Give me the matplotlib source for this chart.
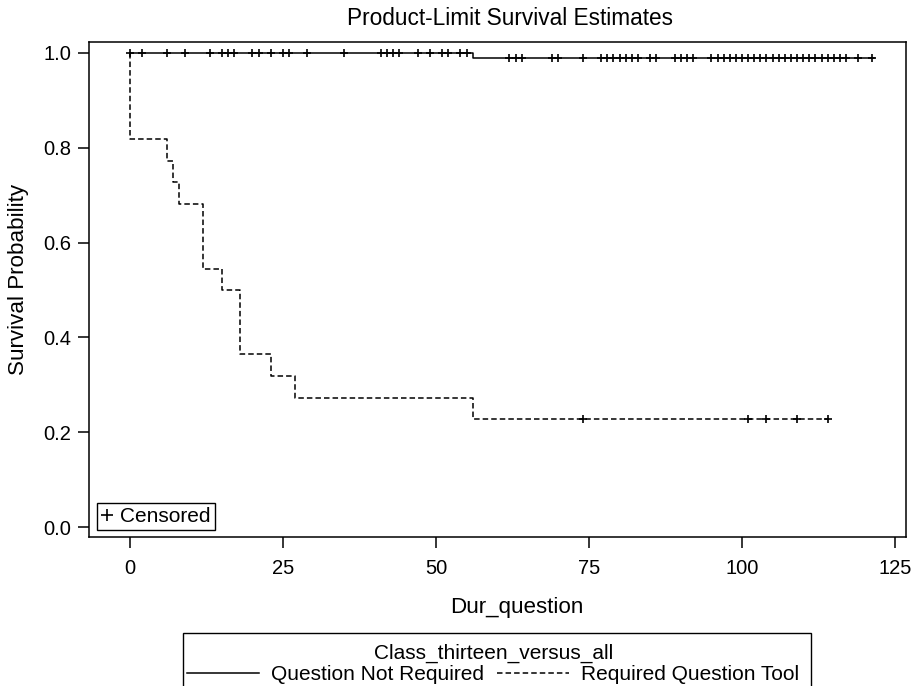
import numpy as np
import matplotlib
matplotlib.use('Agg')
import matplotlib.pyplot as plt
from matplotlib.lines import Line2D
from matplotlib.patches import Rectangle

plt.rcParams['font.family'] = ['Liberation Sans', 'DejaVu Sans']

# ---------------- data ----------------
title = "Product-Limit Survival Estimates"
x_label = "Dur_question"
y_label = "Survival Probability"
legend_title = "Class_thirteen_versus_all"
group_labels = ["Question Not Required", "Required Question Tool"]

x_ticks = [0, 25, 50, 75, 100, 125]
y_ticks = [0.0, 0.2, 0.4, 0.6, 0.8, 1.0]

# Question Not Required (solid line)
nr_times = [0, 56, 121.5]
nr_surv = [1.0, 0.99, 0.99]
nr_censor = [0, 2, 6, 9, 13, 15, 16, 17, 20, 21, 23, 25, 26, 29, 35, 41, 42,
             43, 44, 47, 49, 51, 52, 54, 55, 62, 63, 64, 69, 70, 74, 77, 78,
             79, 80, 81, 82, 83, 85, 86, 89, 90, 91, 92, 95, 96, 97, 98, 99,
             100, 101, 102, 103, 104, 105, 106, 107, 108, 109, 110, 111, 112,
             113, 114, 115, 116, 117, 119, 121.3]

# Required Question Tool (dashed line)
rq_times = [0, 0, 6, 7, 8, 12, 15, 18, 23, 27, 56, 114]
rq_surv = [1.0, 0.818, 0.773, 0.727, 0.682, 0.545, 0.5, 0.364, 0.318, 0.273,
           0.227, 0.227]
rq_censor = [74, 101, 104, 109, 114]


def surv_at(times, surv, t):
    idx = np.searchsorted(np.asarray(times), t, side='right') - 1
    return np.asarray(surv)[idx]


# ---------------- figure ----------------
FS = 15
LFS = 16.1
W, H = 917, 686
fig = plt.figure(figsize=(W / 100, H / 100), dpi=100)
ax = fig.add_axes([89 / W, 1 - 537 / H, (906 - 89) / W, (537 - 42) / H])

lw = 1.1
dash = (3.6, 2.0)
ax.step(nr_times, nr_surv, where='post', color='black', lw=lw)
ax.step(rq_times, rq_surv, where='post', color='black', lw=lw,
        linestyle=(0, dash))

ax.plot(nr_censor, [surv_at(nr_times, nr_surv, t) for t in nr_censor],
        linestyle='none', marker='+', ms=6, mew=1.2, color='black')
ax.plot(rq_censor, [surv_at(rq_times, rq_surv, t) for t in rq_censor],
        linestyle='none', marker='+', ms=6, mew=1.2, color='black')

ax.set_xlim(-6.7, 126.8)
ax.set_ylim(-0.021, 1.023)
ax.set_xticks(x_ticks)
ax.set_yticks(y_ticks)
ax.set_yticklabels([f"{v:.1f}" for v in y_ticks])
ax.tick_params(direction='out', length=8, width=1.1, labelsize=14.5,
               colors='black')
ax.tick_params(axis='x', pad=8)
ax.tick_params(axis='y', pad=5)
for s in ax.spines.values():
    s.set_linewidth(1.1)

ax.set_xlabel(x_label, fontsize=LFS)
ax.set_ylabel(y_label, fontsize=LFS)
ax.xaxis.set_label_coords((517 - 89) / 817, (537 - 596.5) / 495)
ax.yaxis.set_label_coords((29 - 89) / 817, (537 - 279) / 495)
fig.text(510 / W, 1 - 25 / H, title, ha='center', va='baseline',
         fontsize=16.3)

# censored legend inside axes
cens_handle = Line2D([], [], linestyle='none', marker='+', ms=8, mew=1.2,
                     color='black')
leg1 = ax.legend([cens_handle], ['Censored'], loc='lower left',
                 bbox_to_anchor=(0.0098, 0.014), borderaxespad=0,
                 fontsize=FS, handlelength=0.6, handletextpad=0.3,
                 borderpad=0.2, fancybox=False, edgecolor='black',
                 framealpha=1)
leg1.get_frame().set_linewidth(1.0)

# group legend below (frame drawn separately; it runs off the bottom edge)
h1 = Line2D([], [], color='black', lw=lw)
h2 = Line2D([], [], color='black', lw=lw, linestyle=(0, dash))
leg2 = fig.legend([h1, h2], group_labels, title=legend_title, ncol=2,
                  loc='upper left',
                  bbox_to_anchor=(187 / W, 1 - 644 / H), borderaxespad=0,
                  fontsize=FS, title_fontsize=FS, handlelength=3.45,
                  handletextpad=0.6, columnspacing=0.6, borderpad=0,
                  labelspacing=0.1, frameon=False)
fig.add_artist(Rectangle((183 / W, -0.05), (811 - 183) / W,
                         (1 - 633 / H) + 0.05, transform=fig.transFigure,
                         fill=False, edgecolor='black', lw=1.0,
                         clip_on=False))

fig.savefig('out.png', dpi=100)
